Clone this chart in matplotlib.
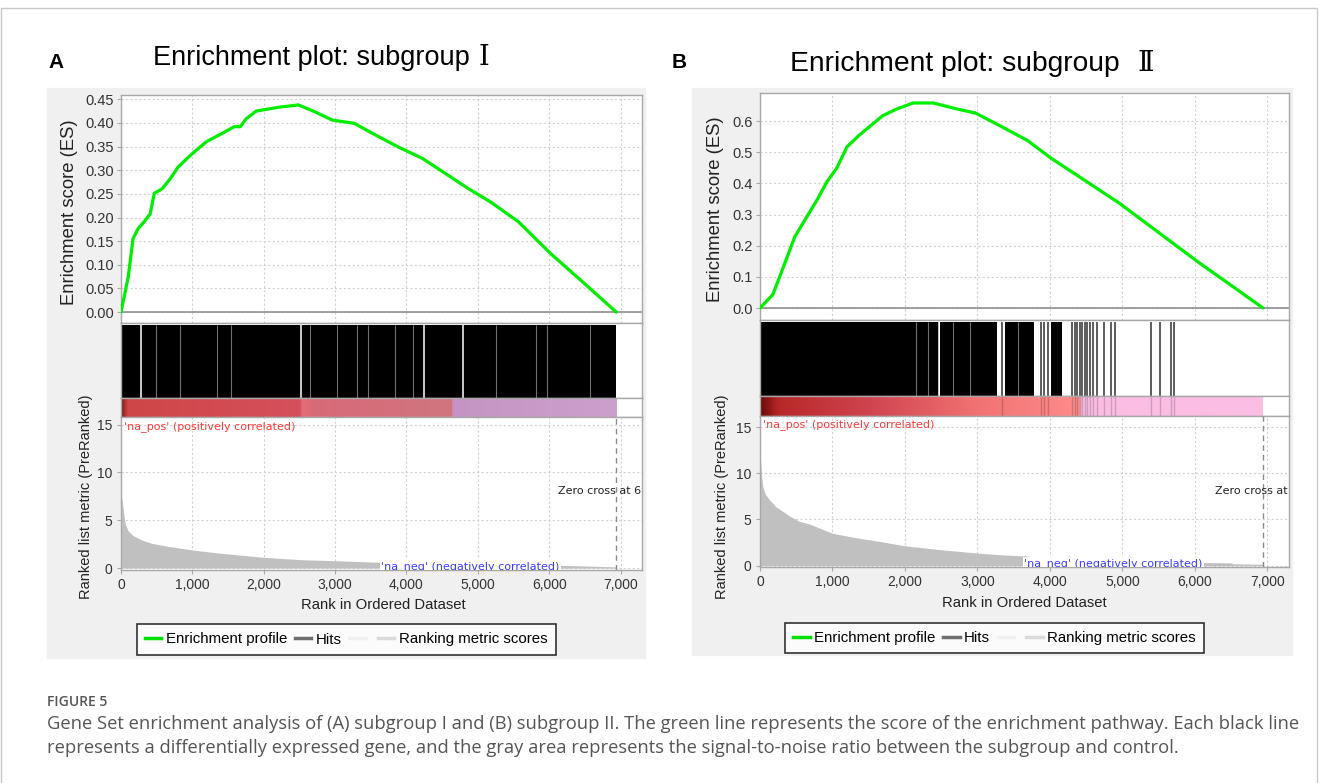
import numpy as np
import matplotlib.pyplot as plt
from matplotlib.colors import LinearSegmentedColormap
from matplotlib.lines import Line2D
from matplotlib.patches import Rectangle
from matplotlib.ticker import FuncFormatter

plt.rcParams['font.family'] = ['Liberation Sans', 'DejaVu Sans']

# ===============================
# DATA
# ===============================
N_GENES = 6940
X_MAX = 7300
x_ticks = [0, 1000, 2000, 3000, 4000, 5000, 6000, 7000]

# --- panel A: subgroup I
es_rank_a = [0, 101, 168, 241, 325, 409, 466, 578, 690, 802, 998, 1195, 1419, 1587,
             1671, 1755, 1896, 2204, 2485, 2709, 2961, 3270, 3522, 3887, 4223, 4616,
             4868, 5177, 5569, 6018, 6467, 6940]
es_a = [0, 0.074, 0.155, 0.177, 0.191, 0.208, 0.251, 0.261, 0.282, 0.307, 0.335, 0.360,
        0.378, 0.392, 0.392, 0.409, 0.425, 0.433, 0.438, 0.424, 0.406, 0.399, 0.378,
        0.349, 0.325, 0.286, 0.261, 0.233, 0.191, 0.124, 0.064, 0]
es_ticks_a = [0.00, 0.05, 0.10, 0.15, 0.20, 0.25, 0.30, 0.35, 0.40, 0.45]

metric_rank_a = [0, 42, 61, 99, 170, 287, 429, 664, 1003, 1371, 2007, 2548, 3010, 3640,
                 4000, 4500, 5000, 5500, 6000, 6200, 6600, 6940]
metric_a = [8.0, 5.5, 4.6, 3.9, 3.4, 2.94, 2.59, 2.27, 1.89, 1.57, 1.12, 0.87, 0.77, 0.6,
            0.52, 0.45, 0.4, 0.35, 0.31, 0.28, 0.2, 0.12]

hit_blocks_a = [(0, 6930)]
hit_lines_a = []
gaps_bright_a = [275, 2516, 4244, 4785]
gaps_faint_a = [492, 821, 1349, 1537, 2643, 3020, 3302, 3467, 3843, 4089, 5256, 5821,
                5962, 6575]

band_rank_a = [0, 80, 2500, 2520, 2700, 4630, 4660, 6940]
band_color_a = ['#8e1f1f', '#cf4646', '#d4505c', '#e86a7a', '#d86a78', '#d0767e',
                '#c594c2', '#cca0cc']

# --- panel B: subgroup II
es_rank_b = [0, 177, 343, 481, 647, 785, 924, 1062, 1200, 1366, 1698, 1892, 2113, 2389,
             2749, 2970, 3302, 3689, 4021, 4408, 4961, 5514, 6067, 6621, 6940]
es_b = [0, 0.043, 0.144, 0.229, 0.293, 0.346, 0.405, 0.450, 0.517, 0.554, 0.618, 0.639,
        0.658, 0.658, 0.637, 0.626, 0.586, 0.538, 0.480, 0.421, 0.336, 0.240, 0.144,
        0.053, 0]
es_ticks_b = [0.0, 0.1, 0.2, 0.3, 0.4, 0.5, 0.6]

metric_rank_b = [0, 19, 37, 75, 145, 215, 309, 402, 543, 683, 1001, 1338, 1665, 2002,
                 2507, 2998, 3302, 3653, 4000, 4500, 5000, 5500, 6100, 6500, 6520, 6940]
metric_b = [12.5, 10.0, 8.6, 7.7, 7.0, 6.4, 5.9, 5.4, 4.8, 4.5, 3.5, 3.0, 2.6, 2.14, 1.71,
            1.36, 1.18, 1.04, 0.9, 0.7, 0.55, 0.45, 0.33, 0.3, 0.2, 0.15]

hit_blocks_b = [(0, 2465), (2490, 3268), (3384, 3778), (4009, 4171)]
hit_lines_b = [3338, 3880, 3917, 3972, 4310, 4343, 4380, 4412, 4449, 4481, 4518, 4556,
               4602, 4657, 4750, 4843, 4898, 5389, 5523, 5676, 5713]
gaps_bright_b = [2472]
gaps_faint_b = [2157, 2319, 2667, 2898, 3560]

band_rank_b = [0, 250, 1500, 3000, 4420, 4440, 6940]
band_color_b = ['#6e0c0c', '#b82828', '#cf4450', '#f27272', '#ff8c8c', '#fbbde3',
                '#fbbde3']

caption_1 = ("Gene Set enrichment analysis of (A) subgroup I and (B) subgroup II. The green "
             "line represents the score of the enrichment pathway. Each black line")
caption_2 = ("represents a differentially expressed gene, and the gray area represents the "
             "signal-to-noise ratio between the subgroup and control.")

# ===============================
# FIGURE
# ===============================
W, H = 1319, 783
fig = plt.figure(figsize=(W / 100, H / 100), dpi=100)
fig.patch.set_facecolor('white')

GRID = dict(color='#d2d2d2', ls=(0, (2, 2)), lw=0.8)
FRAME = '#a8a8a8'
TICK_COL = '#333333'


def box(x0, y0, x1, y1):
    return [x0 / W, 1 - y1 / H, (x1 - x0) / W, (y1 - y0) / H]


def frame(ax):
    for s in ax.spines.values():
        s.set_color(FRAME)
        s.set_linewidth(1)


def draw_panel(letter, title, bg, xl, xr, ys, es_rank, es, es_ticks, es_fmt, es_lim,
               m_rank, m, m_lim, blocks, lines, gaps_b, gaps_f, b_rank, b_col,
               zero_txt_x, legend_c, ylab_x, xlab_c):
    y_es0, y_es1, y_hit1, y_band1, y_m1 = ys

    fig.add_artist(Rectangle((bg[0] / W, 1 - bg[3] / H), (bg[2] - bg[0]) / W,
                             (bg[3] - bg[1]) / H, transform=fig.transFigure,
                             color='#f0f0f0', zorder=-5))

    # enrichment score
    ax = fig.add_axes(box(xl, y_es0, xr, y_es1))
    ax.set_axisbelow(True)
    ax.plot(es_rank, es, color='#00ee00', lw=2.3, solid_capstyle='round', zorder=3)
    ax.axhline(0, color='#909090', lw=1.2, zorder=2)
    ax.set_xlim(0, X_MAX)
    ax.set_ylim(*es_lim)
    ax.set_xticks(x_ticks)
    ax.set_yticks(es_ticks)
    ax.yaxis.set_major_formatter(FuncFormatter(lambda v, _: es_fmt % v))
    ax.tick_params(axis='x', length=0, labelbottom=False)
    ax.tick_params(axis='y', length=3, color=FRAME, labelsize=10.5, labelcolor=TICK_COL,
                   pad=2)
    ax.grid(True, **GRID)
    frame(ax)

    # hits
    ax = fig.add_axes(box(xl, y_es1, xr, y_hit1))
    for s, e in blocks:
        ax.axvspan(s, e, ymin=0, ymax=0.975, color='black', lw=0)
    ax.vlines(lines, 0, 0.975, color='#303030', lw=1.1)
    ax.vlines(gaps_b, 0, 0.975, color='white', lw=1.1)
    ax.vlines(gaps_f, 0, 0.975, color='white', lw=0.8, alpha=0.45)
    ax.set_xlim(0, X_MAX)
    ax.set_ylim(0, 1)
    ax.set_xticks([])
    ax.set_yticks([])
    frame(ax)

    # colour band
    ax = fig.add_axes(box(xl, y_hit1, xr, y_band1))
    stops = [(r / N_GENES, c) for r, c in zip(b_rank, b_col)]
    cmap = LinearSegmentedColormap.from_list('band', stops)
    ax.imshow(np.linspace(0, 1, 800)[None, :], aspect='auto', cmap=cmap,
              extent=(0, N_GENES, 0, 1))
    ax.vlines(lines, 0, 1, color='black', lw=1.0, alpha=0.18)
    ax.set_xlim(0, X_MAX)
    ax.set_ylim(0, 1)
    ax.set_xticks([])
    ax.set_yticks([])
    frame(ax)

    # ranked list metric
    ax = fig.add_axes(box(xl, y_band1, xr, y_m1))
    ax.set_axisbelow(True)
    ax.fill_between(m_rank, m, 0, color='#c0c0c0', lw=0, zorder=2)
    ax.axvline(N_GENES, color='#8a8a8a', ls=(0, (4, 3)), lw=1, zorder=3)
    ax.set_xlim(0, X_MAX)
    ax.set_ylim(*m_lim)
    ax.set_xticks(x_ticks)
    ax.xaxis.set_major_formatter(FuncFormatter(lambda v, _: f'{int(v):,}'))
    ax.set_yticks([0, 5, 10, 15])
    ax.tick_params(length=3, color=FRAME, labelsize=10, labelcolor=TICK_COL, pad=3)
    ax.grid(True, **GRID)
    frame(ax)
    ax.text(40, m_lim[1] - 0.95, "'na_pos' (positively correlated)", color='#ff3b3b',
            fontsize=8, family='DejaVu Sans', va='center', zorder=4)
    ax.text(zero_txt_x, 8.1, 'Zero cross at 6940', color='#222222', fontsize=8,
            family='DejaVu Sans', va='center', clip_on=True, zorder=4)
    ax.text(3645, 0.78, "'na_neg' (negatively correlated)", color='#3a3aff', fontsize=8,
            family='DejaVu Sans', va='top', clip_on=True, zorder=4,
            bbox=dict(boxstyle='square,pad=0.12', fc='white', ec='none'))

    # labels
    fig.text(ylab_x[0] / W, 1 - (y_es0 + y_es1) / 2 / H - 0.004, 'Enrichment score (ES)',
             rotation=90, ha='center', va='center', fontsize=13.3, color='#222222')
    fig.text(ylab_x[1] / W, 1 - 497 / H, 'Ranked list metric (PreRanked)', rotation=90,
             ha='center', va='center', fontsize=10.5, color='#222222')
    fig.text(xlab_c[0] / W, 1 - xlab_c[1] / H, 'Rank in Ordered Dataset', ha='center',
             va='center', fontsize=10.7, color='#222222')
    fig.text(letter[1] / W, 1 - 62 / H, letter[0], ha='center', va='center', fontsize=15,
             fontweight='bold', color='black')
    # title: text part + roman numeral
    fig.text(title[1] / W, 1 - title[3] / H, title[0], ha='left', va='baseline',
             fontsize=title[5], color='black')
    fig.text(title[4] / W, 1 - title[3] / H, title[2], ha='center', va='baseline',
             fontsize=title[5], family=['DejaVu Serif', 'Noto Sans CJK SC'],
             color='black')

    handles = [Line2D([], [], color='#00e000', lw=2.5),
               Line2D([], [], color='#6e6e6e', lw=2.5),
               Line2D([], [], color='#f0f0f0', lw=2.5),
               Line2D([], [], color='#dadada', lw=2.5)]
    leg = fig.legend(handles, ['Enrichment profile', 'Hits', '', 'Ranking metric scores'],
                     loc='center', bbox_to_anchor=(legend_c[0] / W, 1 - legend_c[1] / H),
                     ncol=4, frameon=True, fancybox=False, edgecolor='black',
                     fontsize=10.8, handlelength=1.1, handletextpad=0.3,
                     columnspacing=0.5, borderpad=0.55, borderaxespad=0)
    leg.get_frame().set_linewidth(1.2)


draw_panel(('A', 56), ('Enrichment plot: subgroup', 153, '\u2160', 65, 484, 19.5),
           (47, 88, 645, 658),
           121, 642, (95, 323, 398, 417, 570), es_rank_a, es_a, es_ticks_a, '%.2f',
           (-0.023, 0.459), metric_rank_a, metric_a, (-0.2, 15.8), hit_blocks_a,
           hit_lines_a, gaps_bright_a, gaps_faint_a, band_rank_a, band_color_a, 6120,
           (346, 639.5), (70, 86), (383, 605))

draw_panel(('B', 679), ('Enrichment plot: subgroup', 790, '\u2161', 71, 1146, 20.3),
           (692, 88, 1292, 655),
           760, 1289, (93, 320, 396, 416, 567), es_rank_b, es_b, es_ticks_b, '%.1f',
           (-0.0385, 0.69), metric_rank_b, metric_b, (-0.15, 16.2), hit_blocks_b,
           hit_lines_b, gaps_bright_b, gaps_faint_b, band_rank_b, band_color_b, 6285,
           (994.5, 638), (715, 722), (1024, 603))

# ===============================
# CAPTION
# ===============================
fig.text(47 / W, 1 - 702 / H, 'FIGURE 5', fontsize=10, color='#555555', family='Open Sans',
         va='center', fontweight='semibold')
fig.text(47 / W, 1 - 724 / H, caption_1, fontsize=13.25, color='#555555',
         family='Open Sans', va='center')
fig.text(47 / W, 1 - 748 / H, caption_2, fontsize=13.25, color='#555555',
         family='Open Sans', va='center')

# thin page border
fig.add_artist(Rectangle((1 / W, -0.01), (W - 3) / W, 1 - 8 / H + 0.01,
                         transform=fig.transFigure, fill=False, ec='#c8c8c8', lw=1,
                         zorder=-6))

fig.savefig('out.png', dpi=100, facecolor='white')
